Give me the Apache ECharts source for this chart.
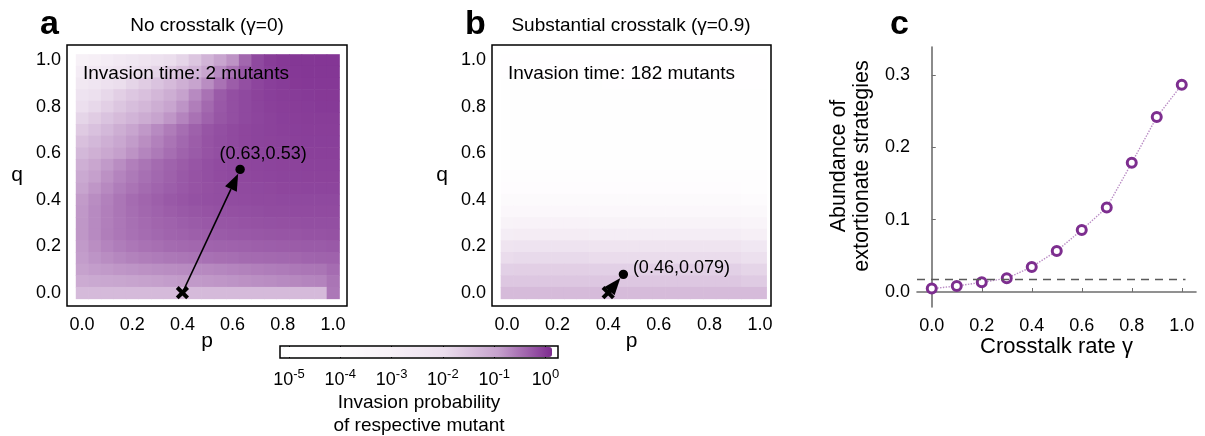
<!DOCTYPE html>
<html><head><meta charset="utf-8">
<script src="https://cdn.jsdelivr.net/npm/echarts@6/dist/echarts.min.js"></script>
<style>html,body{margin:0;padding:0;background:#fff}#chart{width:1205px;height:436px}</style>
</head><body><div id="chart"></div>
<script>
// ---------------- data ----------------
const pValues = [0,0.05,0.1,0.15,0.2,0.25,0.3,0.35,0.4,0.45,0.5,0.55,0.6,0.65,0.7,0.75,0.8,0.85,0.9,0.95,1];
const qValuesTopDown = [1,0.95,0.9,0.85,0.8,0.75,0.7,0.65,0.6,0.55,0.5,0.45,0.4,0.35,0.3,0.25,0.2,0.15,0.1,0.05,0];

// log10 invasion probability, rows from q=1 (top) to q=0 (bottom), columns p=0..1
const logProbNoCrosstalk = [
 [-3.0,-2.9,-2.75,-2.6,-2.45,-2.3,-2.15,-2.0,-1.85,-1.6,-1.3,-1.05,-0.87,-0.5,-0.25,-0.15,-0.12,-0.1,-0.1,-0.09,-0.09],
 [-2.75,-2.6,-2.45,-2.3,-2.15,-2.0,-1.85,-1.7,-1.5,-1.3,-1.05,-0.8,-0.6,-0.38,-0.25,-0.17,-0.13,-0.11,-0.1,-0.1,-0.1],
 [-2.5,-2.35,-2.15,-2.0,-1.85,-1.7,-1.55,-1.4,-1.22,-1.03,-0.82,-0.6,-0.42,-0.3,-0.22,-0.17,-0.14,-0.12,-0.11,-0.11,-0.11],
 [-2.26,-2.1,-1.9,-1.75,-1.62,-1.5,-1.35,-1.2,-1.0,-0.8,-0.6,-0.4,-0.3,-0.25,-0.2,-0.17,-0.15,-0.14,-0.13,-0.12,-0.12],
 [-2.05,-1.9,-1.75,-1.6,-1.47,-1.35,-1.2,-1.05,-0.88,-0.7,-0.52,-0.38,-0.3,-0.25,-0.21,-0.18,-0.16,-0.15,-0.14,-0.13,-0.13],
 [-1.85,-1.7,-1.55,-1.42,-1.3,-1.17,-1.03,-0.9,-0.75,-0.6,-0.46,-0.36,-0.3,-0.25,-0.22,-0.19,-0.17,-0.16,-0.15,-0.15,-0.15],
 [-1.67,-1.52,-1.36,-1.2,-1.05,-0.92,-0.8,-0.68,-0.56,-0.45,-0.35,-0.3,-0.26,-0.23,-0.21,-0.19,-0.18,-0.17,-0.16,-0.16,-0.16],
 [-1.5,-1.36,-1.22,-1.08,-0.95,-0.83,-0.72,-0.61,-0.51,-0.42,-0.34,-0.29,-0.26,-0.23,-0.21,-0.2,-0.19,-0.18,-0.17,-0.17,-0.17],
 [-1.36,-1.23,-1.1,-0.98,-0.87,-0.76,-0.66,-0.56,-0.47,-0.4,-0.34,-0.3,-0.27,-0.24,-0.22,-0.21,-0.2,-0.19,-0.18,-0.18,-0.18],
 [-1.22,-1.07,-0.93,-0.82,-0.71,-0.62,-0.54,-0.47,-0.41,-0.35,-0.3,-0.27,-0.25,-0.23,-0.22,-0.21,-0.2,-0.2,-0.19,-0.19,-0.19],
 [-1.12,-0.98,-0.86,-0.75,-0.66,-0.58,-0.51,-0.45,-0.39,-0.34,-0.3,-0.27,-0.25,-0.24,-0.23,-0.22,-0.21,-0.21,-0.2,-0.2,-0.2],
 [-1.03,-0.9,-0.79,-0.69,-0.61,-0.54,-0.48,-0.43,-0.38,-0.34,-0.31,-0.29,-0.27,-0.26,-0.25,-0.24,-0.23,-0.23,-0.22,-0.22,-0.22],
 [-0.94,-0.82,-0.72,-0.63,-0.55,-0.49,-0.44,-0.39,-0.35,-0.32,-0.3,-0.29,-0.28,-0.27,-0.26,-0.26,-0.25,-0.25,-0.25,-0.25,-0.25],
 [-0.92,-0.8,-0.71,-0.63,-0.56,-0.5,-0.46,-0.42,-0.39,-0.36,-0.34,-0.32,-0.31,-0.3,-0.29,-0.28,-0.28,-0.27,-0.27,-0.27,-0.27],
 [-0.91,-0.8,-0.71,-0.64,-0.58,-0.53,-0.49,-0.46,-0.43,-0.4,-0.38,-0.36,-0.35,-0.34,-0.33,-0.32,-0.31,-0.31,-0.3,-0.3,-0.3],
 [-0.91,-0.8,-0.7,-0.64,-0.59,-0.55,-0.51,-0.48,-0.46,-0.44,-0.42,-0.4,-0.39,-0.38,-0.37,-0.36,-0.35,-0.35,-0.34,-0.34,-0.33],
 [-0.93,-0.83,-0.75,-0.69,-0.64,-0.6,-0.57,-0.54,-0.52,-0.5,-0.48,-0.47,-0.46,-0.45,-0.44,-0.43,-0.42,-0.41,-0.4,-0.4,-0.39],
 [-0.96,-0.88,-0.82,-0.77,-0.73,-0.7,-0.67,-0.65,-0.63,-0.61,-0.59,-0.57,-0.56,-0.54,-0.53,-0.52,-0.51,-0.5,-0.48,-0.47,-0.46],
 [-1.0,-0.96,-0.93,-0.9,-0.88,-0.86,-0.84,-0.82,-0.81,-0.8,-0.79,-0.77,-0.75,-0.73,-0.71,-0.69,-0.67,-0.65,-0.63,-0.62,-0.55],
 [-1.15,-1.12,-1.09,-1.06,-1.03,-1.0,-0.98,-0.96,-0.94,-0.93,-0.92,-0.9,-0.88,-0.86,-0.84,-0.82,-0.8,-0.78,-0.76,-0.74,-0.62],
 [-1.4,-1.4,-1.4,-1.4,-1.4,-1.4,-1.4,-1.4,-1.4,-1.4,-1.4,-1.4,-1.4,-1.4,-1.4,-1.4,-1.4,-1.4,-1.4,-1.4,-0.65]
];

const logProbCrosstalk = [
 [-4.5,-4.5,-4.5,-4.5,-4.5,-4.5,-4.5,-4.5,-4.5,-4.5,-4.5,-4.5,-4.5,-4.5,-4.5,-4.5,-4.5,-4.5,-4.5,-4.5,-4.5],
 [-4.5,-4.5,-4.5,-4.5,-4.5,-4.5,-4.5,-4.5,-4.5,-4.5,-4.5,-4.5,-4.5,-4.5,-4.5,-4.5,-4.5,-4.5,-4.5,-4.5,-4.5],
 [-4.4,-4.4,-4.4,-4.4,-4.4,-4.4,-4.4,-4.4,-4.5,-4.5,-4.5,-4.5,-4.5,-4.5,-4.5,-4.5,-4.5,-4.5,-4.5,-4.5,-4.5],
 [-4.4,-4.4,-4.4,-4.4,-4.4,-4.4,-4.4,-4.4,-4.4,-4.4,-4.4,-4.4,-4.4,-4.4,-4.4,-4.4,-4.4,-4.4,-4.4,-4.4,-4.4],
 [-4.35,-4.35,-4.35,-4.35,-4.35,-4.35,-4.35,-4.35,-4.35,-4.35,-4.45,-4.45,-4.45,-4.45,-4.45,-4.45,-4.45,-4.45,-4.45,-4.45,-4.45],
 [-4.4,-4.4,-4.4,-4.4,-4.4,-4.4,-4.4,-4.4,-4.4,-4.4,-4.4,-4.4,-4.4,-4.4,-4.4,-4.4,-4.4,-4.4,-4.4,-4.4,-4.4],
 [-4.35,-4.35,-4.35,-4.35,-4.35,-4.35,-4.35,-4.35,-4.35,-4.35,-4.35,-4.35,-4.35,-4.35,-4.35,-4.35,-4.35,-4.35,-4.35,-4.35,-4.35],
 [-4.3,-4.3,-4.3,-4.3,-4.3,-4.3,-4.3,-4.3,-4.3,-4.3,-4.3,-4.3,-4.3,-4.3,-4.3,-4.3,-4.3,-4.3,-4.3,-4.3,-4.3],
 [-4.3,-4.3,-4.3,-4.3,-4.3,-4.3,-4.3,-4.3,-4.3,-4.3,-4.3,-4.3,-4.3,-4.3,-4.4,-4.4,-4.4,-4.4,-4.4,-4.4,-4.4],
 [-4.25,-4.25,-4.25,-4.25,-4.25,-4.25,-4.25,-4.25,-4.25,-4.25,-4.25,-4.25,-4.25,-4.25,-4.25,-4.25,-4.25,-4.25,-4.25,-4.25,-4.25],
 [-4.15,-4.15,-4.15,-4.15,-4.15,-4.15,-4.15,-4.15,-4.15,-4.15,-4.15,-4.15,-4.15,-4.15,-4.15,-4.15,-4.15,-4.15,-4.15,-4.15,-4.15],
 [-3.95,-3.95,-3.95,-3.95,-3.95,-3.95,-3.95,-3.95,-3.95,-3.95,-3.95,-3.95,-3.95,-3.95,-3.95,-3.95,-3.95,-3.95,-3.95,-4.05,-4.05],
 [-3.75,-3.75,-3.75,-3.75,-3.75,-3.75,-3.75,-3.75,-3.75,-3.75,-3.75,-3.75,-3.75,-3.75,-3.75,-3.75,-3.75,-3.75,-3.75,-3.85,-3.85],
 [-3.5,-3.5,-3.5,-3.5,-3.5,-3.5,-3.5,-3.5,-3.5,-3.5,-3.5,-3.5,-3.5,-3.5,-3.5,-3.5,-3.5,-3.5,-3.5,-3.6,-3.6],
 [-3.17,-3.12,-3.12,-3.12,-3.12,-3.12,-3.12,-3.17,-3.17,-3.17,-3.17,-3.17,-3.17,-3.17,-3.17,-3.17,-3.17,-3.17,-3.17,-3.25,-3.25],
 [-2.79,-2.72,-2.72,-2.72,-2.72,-2.72,-2.72,-2.79,-2.79,-2.79,-2.79,-2.79,-2.79,-2.79,-2.79,-2.79,-2.79,-2.79,-2.79,-2.9,-2.9],
 [-2.32,-2.25,-2.25,-2.25,-2.25,-2.25,-2.25,-2.32,-2.32,-2.32,-2.32,-2.32,-2.32,-2.32,-2.32,-2.32,-2.32,-2.32,-2.32,-2.45,-2.45],
 [-1.97,-1.93,-1.93,-1.93,-1.93,-1.93,-1.93,-1.97,-1.97,-1.97,-1.97,-1.97,-1.97,-1.97,-1.97,-1.97,-1.97,-1.97,-1.97,-2.1,-2.1],
 [-1.77,-1.75,-1.75,-1.75,-1.75,-1.75,-1.75,-1.77,-1.77,-1.77,-1.77,-1.77,-1.77,-1.77,-1.77,-1.77,-1.77,-1.77,-1.77,-1.85,-1.85],
 [-1.62,-1.62,-1.62,-1.62,-1.62,-1.62,-1.62,-1.62,-1.62,-1.62,-1.62,-1.62,-1.62,-1.62,-1.62,-1.62,-1.62,-1.62,-1.62,-1.68,-1.68],
 [-1.42,-1.42,-1.42,-1.42,-1.42,-1.42,-1.42,-1.42,-1.42,-1.42,-1.42,-1.42,-1.42,-1.42,-1.42,-1.42,-1.42,-1.42,-1.42,-1.42,-1.42]
];

const residentStartA = [0.4, 0];
const invaderEndA = [0.63, 0.53];
const residentStartB = [0.4, 0];
const invaderEndB = [0.46, 0.079];
const invasionTimes = [2, 182];

const gammaValues = [0, 0.1, 0.2, 0.3, 0.4, 0.5, 0.6, 0.7, 0.8, 0.9, 1.0];
const extortionAbundance = [0.0047, 0.0083, 0.0134, 0.019, 0.0346, 0.0567, 0.0858, 0.1167, 0.1784, 0.2416, 0.2863];
const neutralAbundance = 0.0176;

const unitTicks = [0, 0.2, 0.4, 0.6, 0.8, 1.0];
const abundanceTicks = [0, 0.1, 0.2, 0.3];
const colorbarTicks = [-5, -4, -3, -2, -1, 0];

// ---------------- helpers ----------------
const FONT = 'Liberation Sans';
function cells(grid) {
  const out = [];
  grid.forEach((row, i) => row.forEach((v, j) => out.push([pValues[j], qValuesTopDown[i], v])));
  return out;
}
const cellStep = pValues[1] - pValues[0];
function renderCell(params, api) {
  const c = api.coord([api.value(0), api.value(1)]);
  const s = api.size([cellStep, cellStep]);
  return {
    type: 'rect',
    shape: { x: c[0] - s[0] / 2, y: c[1] - s[1] / 2, width: s[0] + 0.6, height: s[1] + 0.6 },
    style: { fill: api.visual('color') }
  };
}
function arrowRenderer(labelDx, labelDy, align) {
  return function (params, api) {
    const a = api.coord([api.value(0), api.value(1)]);
    const b = api.coord([api.value(2), api.value(3)]);
    const dx = b[0] - a[0], dy = b[1] - a[1], L = Math.hypot(dx, dy);
    const ux = dx / L, uy = dy / L, nx = -uy, ny = ux;
    const r = 4.7, head = 17, half = 6.5;
    const tip = [b[0] - ux * r, b[1] - uy * r];
    const base = [tip[0] - ux * head, tip[1] - uy * head];
    const k = 5.2;
    return {
      type: 'group',
      children: [
        { type: 'line', shape: { x1: a[0], y1: a[1], x2: base[0], y2: base[1] }, style: { stroke: '#000', lineWidth: 1.6 } },
        { type: 'polygon', shape: { points: [tip, [base[0] + nx * half, base[1] + ny * half], [base[0] - nx * half, base[1] - ny * half]] }, style: { fill: '#000' } },
        { type: 'circle', shape: { cx: b[0], cy: b[1], r: r }, style: { fill: '#000' } },
        { type: 'line', shape: { x1: a[0] - k, y1: a[1] - k, x2: a[0] + k, y2: a[1] + k }, style: { stroke: '#000', lineWidth: 4 } },
        { type: 'line', shape: { x1: a[0] - k, y1: a[1] + k, x2: a[0] + k, y2: a[1] - k }, style: { stroke: '#000', lineWidth: 4 } },
        { type: 'text', x: b[0] + labelDx, y: b[1] + labelDy,
          style: { text: '(' + api.value(2) + ',' + api.value(3) + ')', fontFamily: FONT, fontSize: 18, fill: '#000', align: align, verticalAlign: 'middle' } }
      ]
    };
  };
}
const tickStyle = { color: '#000', width: 1 };
const labelStyle = { fontFamily: FONT, fontSize: 18, color: '#000' };
function frameAxis(gridIndex, position, min, max, withLabels, name, nameGap, namePad) {
  const ax = {
    type: 'value', gridIndex, position, min, max,
    axisLine: { show: false }, splitLine: { show: false },
    axisTick: { show: true, inside: true, length: 4, customValues: unitTicks, lineStyle: tickStyle },
    axisLabel: withLabels ? Object.assign({ show: true, customValues: unitTicks, formatter: v => v.toFixed(1), margin: position === 'bottom' ? 10 : 6 }, labelStyle) : { show: false }
  };
  if (name) {
    ax.name = name; ax.nameLocation = 'middle'; ax.nameGap = nameGap; ax.nameRotate = 0;
    ax.nameTextStyle = { fontFamily: FONT, fontSize: 21, color: '#000', padding: namePad || 0 };
    ax.nameMoveOverlap = false;
  }
  return ax;
}

// axis ranges (data units) that place the frame around the cells
const aX = [-0.06, 1.056], aY = [-0.057, 1.0645];
const bX = [-0.0593, 1.0435], bY = [-0.057, 1.0645];
const cX = [-0.059, 1.057], cY = [-0.0207, 0.3384];
const cbX = [-5.175, 0.244];

const option = {
  animation: false,
  backgroundColor: '#fff',
  grid: [
    { left: 67, top: 45, width: 280, height: 261, show: true, borderColor: '#000', borderWidth: 1.5, backgroundColor: 'transparent', outerBoundsMode: 'none' },
    { left: 492, top: 45, width: 279, height: 261, show: true, borderColor: '#000', borderWidth: 1.5, backgroundColor: 'transparent', outerBoundsMode: 'none' },
    { left: 917, top: 47, width: 279, height: 260, show: false, outerBoundsMode: 'none' },
    { left: 280, top: 346, width: 278, height: 12, show: true, borderColor: '#000', borderWidth: 1.5, backgroundColor: 'transparent', outerBoundsMode: 'none' }
  ],
  xAxis: [
    frameAxis(0, 'bottom', aX[0], aX[1], true, 'p', 25),
    frameAxis(0, 'top', aX[0], aX[1], false),
    frameAxis(1, 'bottom', bX[0], bX[1], true, 'p', 25),
    frameAxis(1, 'top', bX[0], bX[1], false),
    {
      type: 'value', gridIndex: 2, position: 'bottom', min: cX[0], max: cX[1],
      axisLine: { show: true, lineStyle: { color: '#6e6e6e', width: 1.6 } }, splitLine: { show: false },
      axisTick: { show: true, inside: true, length: 4, customValues: unitTicks, lineStyle: { color: '#6e6e6e', width: 1 } },
      axisLabel: Object.assign({ customValues: unitTicks, formatter: v => v.toFixed(1), margin: 10 }, labelStyle),
      name: 'Crosstalk rate γ', nameLocation: 'middle', nameGap: 29, nameMoveOverlap: false,
      nameTextStyle: { fontFamily: FONT, fontSize: 22, color: '#000' }
    },
    {
      type: 'value', gridIndex: 3, position: 'bottom', min: cbX[0], max: cbX[1],
      axisLine: { show: false }, splitLine: { show: false },
      axisTick: { show: true, inside: true, length: 3, customValues: colorbarTicks, lineStyle: tickStyle },
      axisLabel: {
        customValues: colorbarTicks, margin: 10,
        formatter: v => '{b|10}{s|' + (v < 0 ? '-' + (-v) : v) + '}',
        rich: {
          b: { fontFamily: FONT, fontSize: 18, color: '#000', lineHeight: 24, verticalAlign: 'middle' },
          s: { fontFamily: FONT, fontSize: 13, color: '#000', verticalAlign: 'top' }
        }
      },
      name: 'Invasion probability\nof respective mutant', nameLocation: 'middle', nameGap: 33, nameMoveOverlap: false,
      nameTextStyle: { fontFamily: FONT, fontSize: 19, color: '#000', lineHeight: 23, verticalAlign: 'top' }
    },
    {
      type: 'value', gridIndex: 3, position: 'top', min: cbX[0], max: cbX[1],
      axisLine: { show: false }, splitLine: { show: false },
      axisTick: { show: true, inside: true, length: 3, customValues: colorbarTicks, lineStyle: tickStyle },
      axisLabel: { show: false }
    }
  ],
  yAxis: [
    frameAxis(0, 'left', aY[0], aY[1], true, 'q', 44, [12, 0, 0, 0]),
    frameAxis(0, 'right', aY[0], aY[1], false),
    frameAxis(1, 'left', bY[0], bY[1], true, 'q', 44, [12, 0, 0, 0]),
    frameAxis(1, 'right', bY[0], bY[1], false),
    {
      type: 'value', gridIndex: 2, position: 'left', min: cY[0], max: cY[1],
      axisLine: { show: true, lineStyle: { color: '#6e6e6e', width: 1.6 } }, splitLine: { show: false },
      axisTick: { show: true, inside: true, length: 4, customValues: abundanceTicks, lineStyle: { color: '#6e6e6e', width: 1 } },
      axisLabel: Object.assign({ customValues: abundanceTicks, formatter: v => v.toFixed(1), margin: 7 }, labelStyle)
    },
    { type: 'value', gridIndex: 3, min: 0, max: 1, show: false }
  ],
  visualMap: {
    type: 'continuous', min: -5, max: 0, dimension: 2, seriesIndex: [0, 1],
    orient: 'horizontal', left: 283, top: 347, itemWidth: 10, itemHeight: 269,
    calculable: false, realtime: false, padding: 0, text: null, showLabel: false,
    inRange: { color: ['#ffffff', '#fefdfe', '#f7f1f7', '#ebdeed', '#c6a2cd', '#7d2b8f'] }
  },
  series: [
    { type: 'custom', xAxisIndex: 0, yAxisIndex: 0, data: cells(logProbNoCrosstalk), renderItem: renderCell, encode: { x: 0, y: 1 }, silent: true },
    { type: 'custom', xAxisIndex: 2, yAxisIndex: 2, data: cells(logProbCrosstalk), renderItem: renderCell, encode: { x: 0, y: 1 }, silent: true },
    { type: 'custom', xAxisIndex: 0, yAxisIndex: 0, data: [[residentStartA[0], residentStartA[1], invaderEndA[0], invaderEndA[1]]],
      renderItem: arrowRenderer(23, -15, 'center'), encode: { x: [0, 2], y: [1, 3] }, clip: false, silent: true, z: 5 },
    { type: 'custom', xAxisIndex: 2, yAxisIndex: 2, data: [[residentStartB[0], residentStartB[1], invaderEndB[0], invaderEndB[1]]],
      renderItem: arrowRenderer(9.5, -6, 'left'), encode: { x: [0, 2], y: [1, 3] }, clip: false, silent: true, z: 5 },
    {
      type: 'line', xAxisIndex: 4, yAxisIndex: 4,
      data: gammaValues.map((g, i) => [g, extortionAbundance[i]]),
      symbol: 'circle', symbolSize: 9, showSymbol: true,
      itemStyle: { color: '#ffffff', borderColor: '#7d2e8f', borderWidth: 3 },
      lineStyle: { type: 'dotted', color: '#b98bc4', width: 1.4 },
      silent: true, z: 3,
      markLine: {
        silent: true, symbol: ['none', 'none'], label: { show: false },
        lineStyle: { type: [8, 6], color: '#5a5a5a', width: 1.4 },
        data: [[{ coord: [cX[0], neutralAbundance] }, { coord: [1.015, neutralAbundance] }]]
      }
    }
  ],
  graphic: [
    { type: 'text', x: 40, y: 25, style: { text: 'a', fontFamily: FONT, fontSize: 34, fontWeight: 'bold', fill: '#000', align: 'left', verticalAlign: 'middle' } },
    { type: 'text', x: 207, y: 26, style: { text: 'No crosstalk (γ=0)', fontFamily: FONT, fontSize: 19, fill: '#000', align: 'center', verticalAlign: 'middle' } },
    { type: 'text', x: 465, y: 25, style: { text: 'b', fontFamily: FONT, fontSize: 34, fontWeight: 'bold', fill: '#000', align: 'left', verticalAlign: 'middle' } },
    { type: 'text', x: 631, y: 26, style: { text: 'Substantial crosstalk (γ=0.9)', fontFamily: FONT, fontSize: 19, fill: '#000', align: 'center', verticalAlign: 'middle' } },
    { type: 'text', x: 890, y: 25, style: { text: 'c', fontFamily: FONT, fontSize: 34, fontWeight: 'bold', fill: '#000', align: 'left', verticalAlign: 'middle' } },
    { type: 'text', x: 83, y: 74, z: 10, style: { text: 'Invasion time: ' + invasionTimes[0] + ' mutants', fontFamily: FONT, fontSize: 19, fill: '#000', align: 'left', verticalAlign: 'middle' } },
    { type: 'text', x: 508, y: 74, z: 10, style: { text: 'Invasion time: ' + invasionTimes[1] + ' mutants', fontFamily: FONT, fontSize: 19, fill: '#000', align: 'left', verticalAlign: 'middle' } },
    { type: 'text', x: 851, y: 166, rotation: Math.PI / 2, style: { text: 'Abundance of\nextortionate strategies', fontFamily: FONT, fontSize: 21.5, lineHeight: 23, fill: '#000', align: 'center', verticalAlign: 'middle' } }
  ]
};
const chart = echarts.init(document.getElementById('chart'), null, { renderer: 'canvas' });
chart.setOption(option);
</script>
</body></html>
